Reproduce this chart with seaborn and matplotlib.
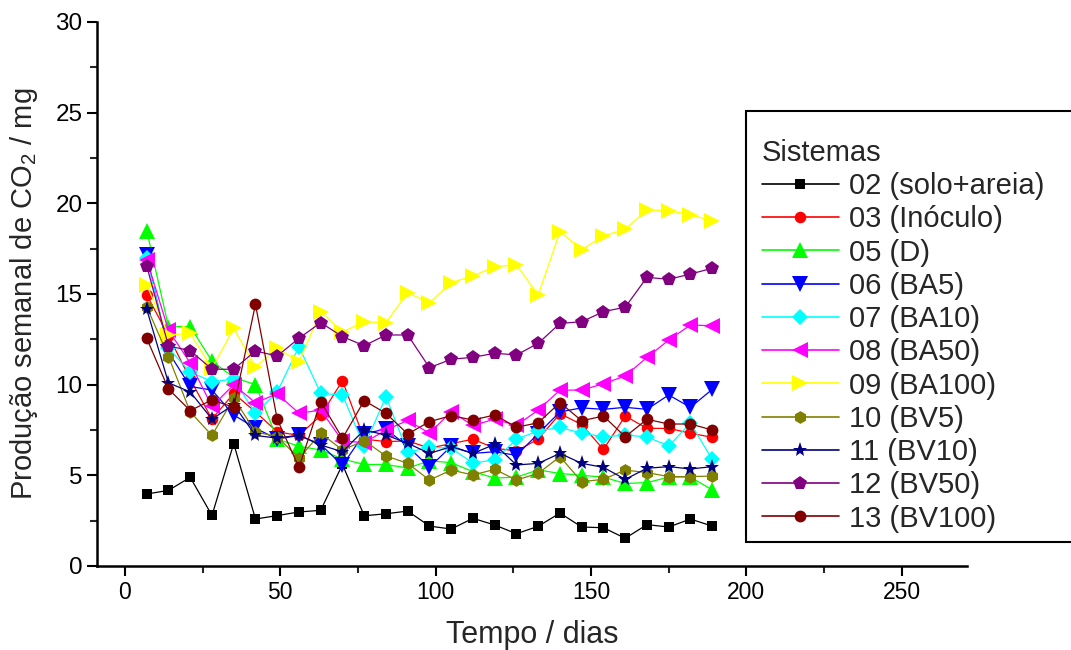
import matplotlib
matplotlib.use("Agg")
import matplotlib.pyplot as plt
import matplotlib.ticker as mticker
from matplotlib.patches import Rectangle
import numpy as np
import pandas as pd
import seaborn as sns

# ---------------- data ----------------
dias = [7, 14, 21, 28, 35, 42, 49, 56, 63, 70, 77, 84, 91, 98, 105, 112,
        119, 126, 133, 140, 147, 154, 161, 168, 175, 182, 189]

s02 = [3.97, 4.17, 4.89, 2.79, 6.75, 2.59, 2.78, 2.98, 3.07, 5.6, 2.77, 2.88, 3.03,
       2.2, 2.04, 2.63, 2.26, 1.78, 2.19, 2.92, 2.15, 2.11, 1.53, 2.28, 2.15, 2.59, 2.2]
s03 = [14.95, 12.7, 10.3, 8.1, 9.52, 8.5, 7.4, 7.2, 8.3, 10.22, 7.0, 6.86, 6.9,
       6.5, 6.75, 6.99, 6.5, 6.34, 7.0, 8.4, 7.8, 6.43, 8.27, 7.59, 7.59, 7.32, 7.1]
s05 = [18.5, 13.2, 13.2, 11.3, 10.4, 10.0, 7.0, 6.6, 6.4, 5.9, 5.6, 5.6, 5.4,
       5.8, 5.7, 5.2, 4.85, 4.9, 5.3, 5.1, 5.0, 4.9, 4.55, 4.6, 4.9, 4.9, 4.2]
s06 = [17.15, 11.8, 9.9, 9.7, 8.33, 7.6, 7.0, 7.2, 6.7, 5.55, 7.3, 7.55, 6.6,
       5.45, 6.6, 6.21, 6.3, 6.1, 7.3, 8.5, 8.72, 8.64, 8.75, 8.64, 9.43, 8.75, 9.74]
s07 = [16.97, 12.0, 10.7, 10.17, 10.3, 8.42, 9.6, 12.1, 9.52, 9.43, 6.6, 9.34, 6.27,
       6.55, 6.49, 5.68, 5.85, 6.99, 7.45, 7.64, 7.33, 7.12, 7.22, 7.12, 6.62, 7.88, 5.88]
s08 = [16.9, 13.0, 11.2, 8.8, 10.0, 9.0, 9.5, 8.42, 8.6, 6.9, 6.8, 7.5, 8.03,
       7.32, 8.51, 7.75, 8.1, 7.75, 8.6, 9.7, 9.7, 10.05, 10.48, 11.5, 12.46, 13.29, 13.25]
s09 = [15.5, 12.74, 12.83, 10.9, 13.1, 10.97, 12.0, 11.27, 14.03, 12.9, 13.47, 13.42, 15.07,
       14.52, 15.63, 15.99, 16.51, 16.6, 14.95, 18.44, 17.45, 18.2, 18.57, 19.64, 19.6, 19.36, 19.05]
s10 = [14.3, 11.55, 8.5, 7.2, 9.25, 7.4, 7.13, 5.94, 7.32, 6.4, 6.91, 6.07, 5.66,
       4.74, 5.29, 5.02, 5.33, 4.74, 5.11, 6.03, 4.65, 4.78, 5.29, 5.15, 4.93, 4.93, 4.96]
s11 = [14.16, 10.1, 9.6, 8.1, 8.9, 7.2, 7.05, 7.22, 6.67, 6.3, 7.5, 7.22, 6.77,
       6.21, 6.58, 6.21, 6.71, 5.57, 5.66, 6.21, 5.66, 5.44, 4.78, 5.39, 5.48, 5.35, 5.48]
s12 = [16.55, 12.13, 11.88, 10.85, 10.85, 11.86, 11.58, 12.56, 13.42, 12.65, 12.15, 12.74, 12.74,
       10.94, 11.4, 11.51, 11.73, 11.64, 12.28, 13.38, 13.47, 14.03, 14.27, 15.92, 15.81, 16.1, 16.42]
s13 = [12.56, 9.76, 8.57, 9.16, 8.75, 14.43, 8.09, 5.44, 9.06, 7.04, 9.12, 8.42, 7.28,
       7.96, 8.29, 8.05, 8.33, 7.65, 7.9, 9.01, 8.01, 8.27, 7.13, 8.09, 7.83, 7.83, 7.5]

sistemas = ["02 (solo+areia)", "03 (Inóculo)", "05 (D)", "06 (BA5)", "07 (BA10)",
            "08 (BA50)", "09 (BA100)", "10 (BV5)", "11 (BV10)", "12 (BV50)", "13 (BV100)"]
valores = [s02, s03, s05, s06, s07, s08, s09, s10, s11, s12, s13]

# ---------------- style ----------------
cores = ["#000000", "#FF0000", "#00FF00", "#0000FF", "#00FFFF", "#FF00FF",
         "#FFFF00", "#808000", "#000080", "#800080", "#800000"]
marcadores = ["s", "o", "^", "v", "D", "<", ">", "h", "*", "p", "o"]
tamanhos = [7.2, 8.3, 11, 11, 7.8, 11, 11, 9.2, 11, 10.5, 8.5]

sns.set_style("ticks")
plt.rcParams["font.family"] = ["Liberation Sans", "DejaVu Sans"]
plt.rcParams["mathtext.fontset"] = "custom"
plt.rcParams["mathtext.rm"] = "Liberation Sans"

df = pd.DataFrame({
    "Tempo": np.tile(dias, len(sistemas)),
    "Valor": np.concatenate([np.asarray(v, float) for v in valores]),
    "Sistema": np.repeat(sistemas, len(dias)),
})

fig = plt.figure(figsize=(10.71, 6.5), dpi=100)
ax = fig.add_axes([97 / 1071, 84 / 650, 870 / 1071, 544 / 650])

for nome, cor, mk, ms in zip(sistemas, cores, marcadores, tamanhos):
    sub = df[df["Sistema"] == nome]
    sns.lineplot(data=sub, x="Tempo", y="Valor", ax=ax, color=cor, marker=mk,
                 markersize=ms, markeredgewidth=0, linewidth=0.9, label=nome,
                 estimator=None, sort=False)

ax.set_xlim(-9, 271)
ax.set_ylim(0, 30)
ax.xaxis.set_major_locator(mticker.MultipleLocator(50))
ax.xaxis.set_minor_locator(mticker.MultipleLocator(25))
ax.yaxis.set_major_locator(mticker.MultipleLocator(5))
ax.yaxis.set_minor_locator(mticker.MultipleLocator(2.5))
ax.tick_params(axis="both", which="major", direction="out", length=7, width=1.5,
               colors="black")
ax.tick_params(axis="both", which="minor", direction="out", length=5, width=1.5)
ax.tick_params(axis="y", labelsize=17.5)
ax.tick_params(axis="x", labelsize=16.5)
for sp in ["top", "right"]:
    ax.spines[sp].set_visible(False)
for sp in ["left", "bottom"]:
    ax.spines[sp].set_linewidth(1.8)
    ax.spines[sp].set_color("black")

ax.set_xlabel("Tempo / dias", fontsize=22, labelpad=12)
ax.set_ylabel(r"Produção semanal de CO$_\mathregular{2}$ / mg", fontsize=21, labelpad=11)

# legend: box drawn separately (runs off the right edge), entries via fig.legend
handles, labels = ax.get_legend_handles_labels()
ax.get_legend().remove()
caixa = Rectangle((746 / 1071, 1 - 542 / 650), (1250 - 746) / 1071, (542 - 111) / 650,
                  transform=fig.transFigure, facecolor="white", edgecolor="black",
                  linewidth=1.5, zorder=1, clip_on=False)
fig.add_artist(caixa)
leg = fig.legend(handles, labels, loc="upper left",
                 bbox_to_anchor=(756 / 1071, 1 - 133 / 650),
                 bbox_transform=fig.transFigure, borderaxespad=0, frameon=False,
                 fontsize=21, title="Sistemas", title_fontsize=21, alignment="left",
                 labelspacing=0.18, handlelength=2.65, handletextpad=0.35,
                 borderpad=0.2, numpoints=1)
leg.set_zorder(5)
for line in leg.get_lines():
    line.set_linewidth(1.2)

fig.savefig("out.png", dpi=100)
